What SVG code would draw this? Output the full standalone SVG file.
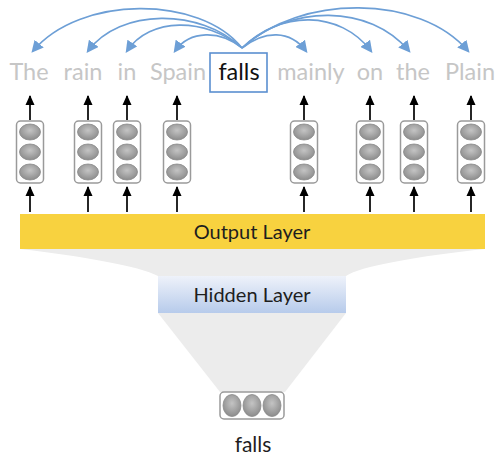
<svg xmlns="http://www.w3.org/2000/svg" width="496" height="459" viewBox="0 0 496 459">
<defs>
<style>
.w{font-family:Lato,"Liberation Sans",sans-serif;font-size:23.5px;fill:#c6c6c6;text-anchor:middle}
.lbl{font-family:Lato,"Liberation Sans",sans-serif;font-size:20px;fill:#1e1e1e;text-anchor:middle}
.arc{fill:none;stroke:#6d9fd6;stroke-width:1.6}
.up{stroke:#000;stroke-width:1.7;fill:none}
.col{fill:#fff;stroke:#9a9a9a;stroke-width:1.5}
.cell{fill:url(#g);stroke:#8a8a8a;stroke-width:0.8}
</style>
<radialGradient id="g" cx="50%" cy="40%" r="60%">
<stop offset="0" stop-color="#c4c4c4"/>
<stop offset="1" stop-color="#8c8c8c"/>
</radialGradient>
<linearGradient id="hb" x1="0" y1="0" x2="0" y2="1">
<stop offset="0" stop-color="#eef2fa"/>
<stop offset="1" stop-color="#b7cbeb"/>
</linearGradient>
<marker id="ba" viewBox="0 0 10 10" refX="8" refY="5" markerWidth="12" markerHeight="12" markerUnits="userSpaceOnUse" orient="auto">
<path d="M0,0 L10,5 L0,10 z" fill="#6d9fd6"/>
</marker>
<marker id="ka" viewBox="0 0 10 10" refX="9" refY="5" markerWidth="10" markerHeight="10" markerUnits="userSpaceOnUse" orient="auto">
<path d="M0,0.5 L10,5 L0,9.5 z" fill="#000"/>
</marker>
<g id="vec">
<rect class="col" x="-13.5" y="0" width="27" height="62" rx="4"/>
<ellipse class="cell" cx="0" cy="11" rx="10.5" ry="8"/>
<ellipse class="cell" cx="0" cy="31" rx="10.5" ry="8"/>
<ellipse class="cell" cx="0" cy="51" rx="10.5" ry="8"/>
</g>
</defs>
<rect width="496" height="459" fill="#fff"/>

<g id="funnel">
<path d="M20,249 L485,249 C420,256 360,266 346,276 L158,276 C140,266 80,256 20,249 z" fill="#ececec"/>
<path d="M158,313 L346,313 L285,392 L220,392 z" fill="#ececec"/>
</g>

<g id="output-layer">
<rect x="20" y="214" width="465" height="35" fill="#f8d23f"/>
<text class="lbl" x="252" y="238.5">Output Layer</text>
</g>

<g id="hidden-layer">
<rect x="158" y="276" width="188" height="37" fill="url(#hb)"/>
<text class="lbl" x="252" y="302">Hidden Layer</text>
</g>

<g id="input">
<rect class="col" x="220" y="392" width="64" height="27" rx="4"/>
<ellipse class="cell" cx="232" cy="405.5" rx="9" ry="11"/>
<ellipse class="cell" cx="252" cy="405.5" rx="9" ry="11"/>
<ellipse class="cell" cx="272" cy="405.5" rx="9" ry="11"/>
<text class="lbl" x="253" y="452" style="font-size:21px">falls</text>
</g>

<g id="vectors">
<use href="#vec" x="30" y="121"/>
<use href="#vec" x="88" y="121"/>
<use href="#vec" x="127" y="121"/>
<use href="#vec" x="177" y="121"/>
<use href="#vec" x="304" y="121"/>
<use href="#vec" x="370" y="121"/>
<use href="#vec" x="414" y="121"/>
<use href="#vec" x="471" y="121"/>
</g>

<g id="words">
<text class="w" x="29" y="80">The</text>
<text class="w" x="83" y="80">rain</text>
<text class="w" x="127" y="80">in</text>
<text class="w" x="178" y="80">Spain</text>
<g id="center-word">
<rect x="210" y="53" width="57" height="39" fill="#fff" stroke="#5b8fd0" stroke-width="1.6"/>
<text class="w" x="239" y="80" style="fill:#111">falls</text>
</g>
<text class="w" x="311" y="80">mainly</text>
<text class="w" x="370" y="80">on</text>
<text class="w" x="413" y="80">the</text>
<text class="w" x="470" y="80">Plain</text>
</g>

<g id="connectors">
<path class="arc" d="M242,48 C200,-5 80,-5 33,51" marker-end="url(#ba)"/>
<path class="arc" d="M242,48 C200,8 120,8 88,51" marker-end="url(#ba)"/>
<path class="arc" d="M242,48 C205,17 150,17 127,51" marker-end="url(#ba)"/>
<path class="arc" d="M242,48 C220,30 190,30 175,51" marker-end="url(#ba)"/>
<path class="arc" d="M242,48 C265,30 290,30 306,51" marker-end="url(#ba)"/>
<path class="arc" d="M242,48 C280,10 340,10 371,51" marker-end="url(#ba)"/>
<path class="arc" d="M242,48 C290,4 370,4 409,51" marker-end="url(#ba)"/>
<path class="arc" d="M242,48 C300,-6 420,-6 468,51" marker-end="url(#ba)"/>

<path class="up" d="M30,120 V96" marker-end="url(#ka)"/>
<path class="up" d="M88,120 V96" marker-end="url(#ka)"/>
<path class="up" d="M127,120 V96" marker-end="url(#ka)"/>
<path class="up" d="M177,120 V96" marker-end="url(#ka)"/>
<path class="up" d="M304,120 V96" marker-end="url(#ka)"/>
<path class="up" d="M370,120 V96" marker-end="url(#ka)"/>
<path class="up" d="M414,120 V96" marker-end="url(#ka)"/>
<path class="up" d="M471,120 V96" marker-end="url(#ka)"/>

<path class="up" d="M30,212 V187" marker-end="url(#ka)"/>
<path class="up" d="M88,212 V187" marker-end="url(#ka)"/>
<path class="up" d="M127,212 V187" marker-end="url(#ka)"/>
<path class="up" d="M177,212 V187" marker-end="url(#ka)"/>
<path class="up" d="M304,212 V187" marker-end="url(#ka)"/>
<path class="up" d="M370,212 V187" marker-end="url(#ka)"/>
<path class="up" d="M414,212 V187" marker-end="url(#ka)"/>
<path class="up" d="M471,212 V187" marker-end="url(#ka)"/>
</g>
</svg>
